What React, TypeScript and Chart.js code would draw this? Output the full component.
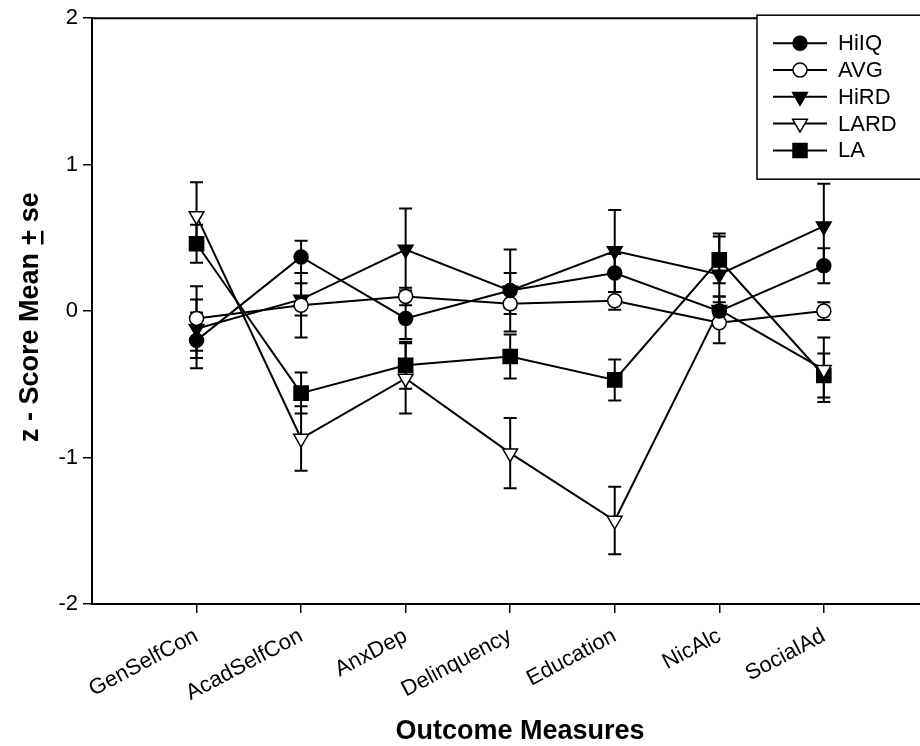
import React, { useEffect, useRef } from 'react';
import { Chart, registerables } from 'chart.js';

Chart.register(...registerables);

const categories = ['GenSelfCon', 'AcadSelfCon', 'AnxDep', 'Delinquency', 'Education', 'NicAlc', 'SocialAd'];
const yTickValues = [-2, -1, 0, 1, 2];
const xTitle = 'Outcome Measures';
const yTitle = 'z - Score Mean + se';

const HiIQ = [-0.20, 0.37, -0.05, 0.14, 0.26, 0.00, 0.31];
const HiIQ_se = [0.19, 0.11, 0.14, 0.12, 0.13, 0.10, 0.12];
const AVG = [-0.05, 0.04, 0.10, 0.05, 0.07, -0.08, 0.00];
const AVG_se = [0.22, 0.22, 0.06, 0.07, 0.06, 0.14, 0.06];
const HiRD = [-0.12, 0.08, 0.42, 0.14, 0.41, 0.25, 0.58];
const HiRD_se = [0.20, 0.11, 0.28, 0.28, 0.28, 0.28, 0.29];
const LARD = [0.65, -0.87, -0.46, -0.97, -1.43, 0.01, -0.40];
const LARD_se = [0.23, 0.22, 0.24, 0.24, 0.23, 0.09, 0.22];
const LA = [0.46, -0.56, -0.37, -0.31, -0.47, 0.35, -0.44];
const LA_se = [0.13, 0.14, 0.16, 0.15, 0.14, 0.16, 0.15];

const FONT = '"Liberation Sans", Arial, Helvetica, sans-serif';

type Marker = 'circle' | 'tri' | 'rect';

function drawMarker(ctx: CanvasRenderingContext2D, kind: Marker, filled: boolean, x: number, y: number) {
  ctx.save();
  ctx.beginPath();
  if (kind === 'circle') {
    ctx.arc(x, y, 7, 0, Math.PI * 2);
  } else if (kind === 'tri') {
    const r = 8.5;
    ctx.moveTo(x, y + r);
    ctx.lineTo(x - r * 0.866, y - r / 2);
    ctx.lineTo(x + r * 0.866, y - r / 2);
    ctx.closePath();
  } else {
    ctx.rect(x - 7, y - 7, 14, 14);
  }
  ctx.fillStyle = filled ? '#000' : '#fff';
  ctx.fill();
  ctx.lineWidth = 1.5;
  ctx.strokeStyle = '#000';
  ctx.stroke();
  ctx.restore();
}

const errorBarsPlugin = {
  id: 'errorBars',
  beforeDatasetsDraw(chart: any) {
    const { ctx, scales } = chart;
    const xs = scales.x;
    const ys = scales.y;
    ctx.save();
    ctx.strokeStyle = '#000';
    ctx.lineWidth = 2;
    chart.data.datasets.forEach((ds: any) => {
      ds.data.forEach((p: any, i: number) => {
        const px = xs.getPixelForValue(p.x);
        const top = ys.getPixelForValue(p.y + ds.se[i]);
        const bot = ys.getPixelForValue(p.y - ds.se[i]);
        ctx.beginPath();
        ctx.moveTo(px, top);
        ctx.lineTo(px, bot);
        ctx.moveTo(px - 6.5, top);
        ctx.lineTo(px + 6.5, top);
        ctx.moveTo(px - 6.5, bot);
        ctx.lineTo(px + 6.5, bot);
        ctx.stroke();
      });
    });
    ctx.restore();
  },
};

const framePlugin = {
  id: 'frameTop',
  beforeDatasetsDraw(chart: any) {
    const { ctx, chartArea } = chart;
    ctx.save();
    ctx.strokeStyle = '#000';
    ctx.lineWidth = 2;
    ctx.beginPath();
    ctx.moveTo(chartArea.left, chartArea.top);
    ctx.lineTo(chartArea.right, chartArea.top);
    ctx.stroke();
    ctx.restore();
  },
};

const titlesPlugin = {
  id: 'axisTitles',
  afterDraw(chart: any) {
    const { ctx, chartArea } = chart;
    ctx.save();
    ctx.fillStyle = '#000';
    ctx.font = `bold 27px ${FONT}`;
    ctx.textAlign = 'center';
    ctx.textBaseline = 'middle';
    ctx.fillText(xTitle, chartArea.left + 428, chartArea.bottom + 128);

    ctx.translate(chartArea.left - 61, (chartArea.top + chartArea.bottom) / 2 + 6);
    ctx.rotate(-Math.PI / 2);
    ctx.textAlign = 'left';
    const w = ctx.measureText(yTitle).width;
    ctx.fillText(yTitle, -w / 2, 0);
    const idx = yTitle.indexOf('+');
    const px = -w / 2 + ctx.measureText(yTitle.slice(0, idx)).width;
    const pw = ctx.measureText('+').width;
    ctx.fillRect(px + 1, 10, pw - 2, 2.5);
    ctx.restore();
  },
};

const legendPlugin = {
  id: 'boxLegend',
  afterDraw(chart: any) {
    const { ctx, chartArea } = chart;
    const left = chartArea.right - 163;
    const top = chartArea.top - 3;
    ctx.save();
    ctx.fillStyle = '#fff';
    ctx.fillRect(left, top, 200, 164);
    ctx.strokeStyle = '#000';
    ctx.lineWidth = 1.5;
    ctx.strokeRect(left, top, 200, 164);
    chart.data.datasets.forEach((ds: any, i: number) => {
      const y = top + 28 + i * 26.8;
      ctx.strokeStyle = '#000';
      ctx.lineWidth = 2;
      ctx.beginPath();
      ctx.moveTo(left + 16, y);
      ctx.lineTo(left + 70, y);
      ctx.stroke();
      drawMarker(ctx, ds.marker, ds.filled, left + 43, y);
      ctx.fillStyle = '#000';
      ctx.font = `22px ${FONT}`;
      ctx.textAlign = 'left';
      ctx.textBaseline = 'middle';
      ctx.fillText(ds.label, left + 81, y + 1);
    });
    ctx.restore();
  },
};

export default function App() {
  const canvasRef = useRef<HTMLCanvasElement>(null);

  useEffect(() => {
    document.body.style.margin = '0';
    const canvas = canvasRef.current;
    if (!canvas) return;

    const mk = (label: string, values: number[], se: number[], marker: Marker, filled: boolean) => ({
      label,
      data: values.map((v, i) => ({ x: i, y: v })),
      se,
      marker,
      filled,
      borderColor: '#000',
      borderWidth: 2,
      backgroundColor: filled ? '#000' : '#fff',
      pointStyle: marker === 'tri' ? 'triangle' : marker === 'rect' ? 'rect' : 'circle',
      pointRotation: marker === 'tri' ? 180 : 0,
      pointRadius: marker === 'tri' ? 8.5 : marker === 'rect' ? 10 : 7,
      pointHoverRadius: marker === 'tri' ? 8.5 : marker === 'rect' ? 10 : 7,
      pointBackgroundColor: filled ? '#000' : '#fff',
      pointBorderColor: '#000',
      pointBorderWidth: 1.5,
      tension: 0,
      fill: false,
      clip: false,
    });

    const chart = new Chart(canvas, {
      type: 'line',
      data: {
        datasets: [
          mk('HiIQ', HiIQ, HiIQ_se, 'circle', true),
          mk('AVG', AVG, AVG_se, 'circle', false),
          mk('HiRD', HiRD, HiRD_se, 'tri', true),
          mk('LARD', LARD, LARD_se, 'tri', false),
          mk('LA', LA, LA_se, 'rect', true),
        ] as any,
      },
      options: {
        animation: false,
        responsive: true,
        maintainAspectRatio: false,
        events: [],
        layout: { autoPadding: false, padding: { top: 17, right: 0, left: 0, bottom: 0 } },
        plugins: {
          legend: { display: false },
          tooltip: { enabled: false },
        },
        scales: {
          x: {
            type: 'linear',
            min: -1,
            max: 6.92,
            afterBuildTicks: (s: any) => {
              s.ticks = categories.map((_, i) => ({ value: i }));
            },
            afterFit: (s: any) => {
              s.height = 142;
              s.paddingLeft = 0;
              s.paddingRight = 0;
            },
            ticks: {
              autoSkip: false,
              minRotation: 28,
              maxRotation: 28,
              color: '#000',
              padding: 10,
              font: { size: 22, family: FONT },
              callback: (v: any) => categories[v] ?? '',
            },
            grid: { drawOnChartArea: false, drawTicks: true, tickLength: 9, color: '#000', lineWidth: 1.5 },
            border: { color: '#000', width: 2 },
            title: { display: false },
          },
          y: {
            min: -2,
            max: 2,
            afterBuildTicks: (s: any) => {
              s.ticks = yTickValues.map((v) => ({ value: v }));
            },
            afterFit: (s: any) => {
              s.width = 92;
            },
            ticks: {
              color: '#000',
              padding: 5,
              font: { size: 22, family: FONT },
            },
            grid: { drawOnChartArea: false, drawTicks: true, tickLength: 9, color: '#000', lineWidth: 1.5 },
            border: { color: '#000', width: 2 },
            title: { display: false },
          },
        },
      } as any,
      plugins: [framePlugin, errorBarsPlugin, titlesPlugin, legendPlugin],
    });

    return () => chart.destroy();
  }, []);

  return (
    <div style={{ width: 920, height: 746, position: 'relative', background: '#fff' }}>
      <canvas ref={canvasRef} />
    </div>
  );
}
